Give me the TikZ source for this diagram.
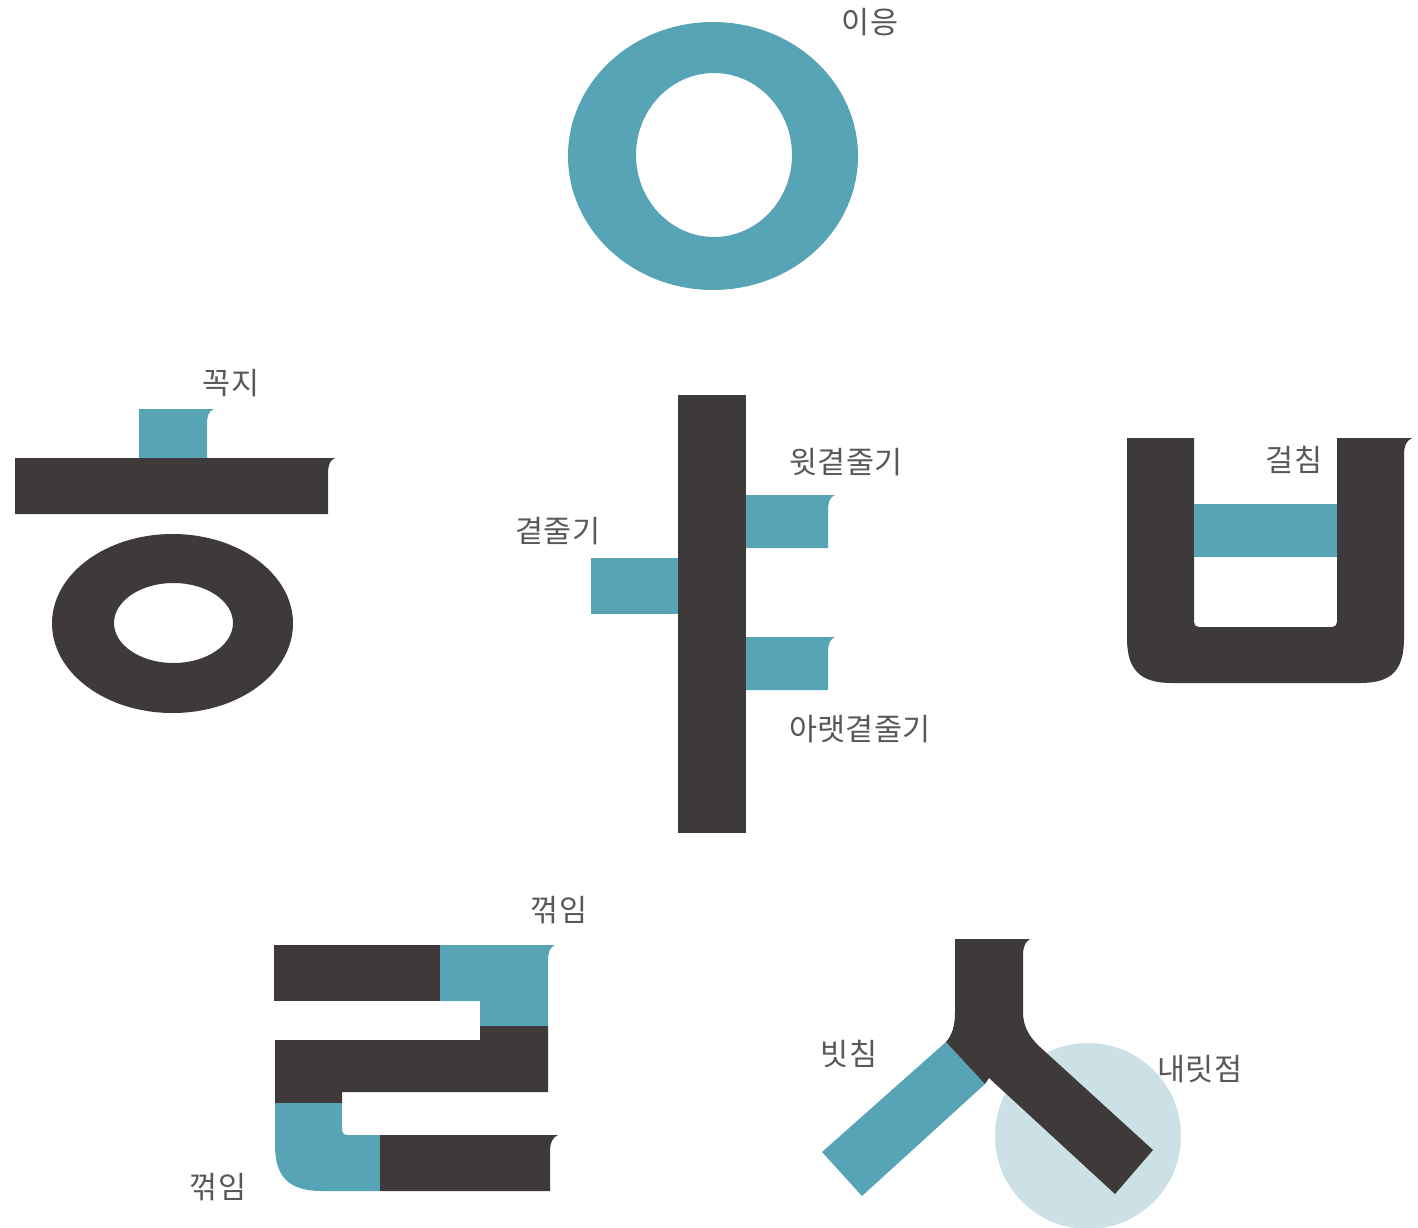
\documentclass[tikz,border=0pt]{standalone}
\usepackage{fontspec}
\newfontfamily\kr{Noto Sans CJK KR}
\definecolor{stroke}{HTML}{3E3A39}
\definecolor{accent}{HTML}{57A4B7}
\definecolor{pale}{HTML}{CCE1E6}
\definecolor{label}{HTML}{595757}

\begin{document}
\begin{tikzpicture}[x=1pt,y=-1pt,
    ink/.style={fill=stroke},
    hi/.style={fill=accent},
    lbl/.style={text=label,inner sep=0pt,font=\kr\fontsize{30.5}{32}\selectfont}]
\useasboundingbox (0,0) rectangle (1418,1228);
% ieung
\fill[hi,even odd rule] (713,156) ellipse [x radius=145pt,y radius=134pt]
    (714,155) ellipse [x radius=78pt,y radius=82pt];
% hieut
\fill[hi] (139,409) -- (214,409) .. controls (209,411) and (207,415) .. (207,424) -- (207,459) -- (139,459) -- cycle;
\fill[ink] (15,458) -- (335,458) .. controls (330,460) and (328,465) .. (328,474) -- (328,514) -- (15,514) -- cycle;
\fill[ink,even odd rule] (172.5,623.5) ellipse [x radius=120.5pt,y radius=89.5pt]
    (173.5,623) ellipse [x radius=59.5pt,y radius=40pt];
% ya
\fill[ink] (678,395) rectangle (746,833);
\fill[hi] (591,558) rectangle (678,614);
\fill[hi] (746,495) -- (835,495) .. controls (830,497) and (828,502) .. (828,511) -- (828,548) -- (746,548) -- cycle;
\fill[hi] (746,637) -- (835,637) .. controls (830,639) and (828,644) .. (828,653) -- (828,690) -- (746,690) -- cycle;
% bieup
\fill[ink] (1127,438) -- (1194,438) -- (1194,622) .. controls (1194,625) and (1196,627) .. (1199,627)
    -- (1332,627) .. controls (1335,627) and (1337,625) .. (1337,622) -- (1337,438) -- (1412,438)
    .. controls (1406,441) and (1404,446) .. (1404,455) -- (1404,638)
    .. controls (1404,670) and (1392,683) .. (1360,683) -- (1172,683)
    .. controls (1140,683) and (1127,670) .. (1127,638) -- cycle;
\fill[hi] (1194,504) rectangle (1337,557);
% rieul
\fill[ink] (274,945) rectangle (440,1001);
\fill[hi] (440,945) -- (555,945) .. controls (550,947) and (548,952) .. (548,961) -- (548,1026) -- (480,1026) -- (480,1001) -- (440,1001) -- cycle;
\fill[ink] (275,1040) -- (480,1040) -- (480,1026) -- (548,1026) -- (548,1092) -- (342,1092) -- (342,1103) -- (275,1103) -- cycle;
\fill[hi] (275,1103) -- (342,1103) -- (342,1129) .. controls (342,1133) and (344,1135) .. (348,1135) -- (380,1135)
    -- (380,1191) -- (322,1191) .. controls (288,1191) and (275,1176) .. (275,1145) -- cycle;
\fill[ink] (380,1135) -- (558,1135) .. controls (553,1137) and (550,1142) .. (550,1151) -- (550,1191) -- (380,1191) -- cycle;
% siot
\fill[pale] (1088,1136) circle [radius=93pt];
\fill[hi] (946,1042) -- (985,1084) -- (862,1196) -- (822,1152) -- cycle;
\fill[ink] (955,939) -- (1030,939) .. controls (1025,942) and (1023,947) .. (1023,956) -- (1023,1012)
    .. controls (1023,1025) and (1028,1036) .. (1040,1047) -- (1153,1150) -- (1115,1194) -- (989,1078)
    -- (985,1084) -- (946,1042) .. controls (952,1035) and (955,1026) .. (955,1012) -- cycle;
% labels
\node[lbl](ieung)at(870,22){이응};
\node[lbl](kkokji)at(231,383){꼭지};
\node[lbl](gyeot)at(558,531){곁줄기};
\node[lbl](witgyeot)at(846,462){윗곁줄기};
\node[lbl](araetgyeot)at(860,729){아랫곁줄기};
\node[lbl](geolchim)at(1294,460){걸침};
\node[lbl](kkeokkimtop)at(559,910){꺾임};
\node[lbl](kkeokkimbot)at(218,1187){꺾임};
\node[lbl](bitchim)at(849,1054){빗침};
\node[lbl](naeritjeom)at(1200,1069){내릿점};
\end{tikzpicture}
\end{document}
